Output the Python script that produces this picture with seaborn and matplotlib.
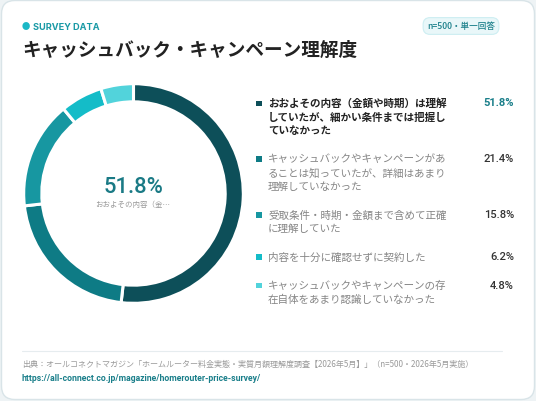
import textwrap
import matplotlib
matplotlib.use("Agg")
import matplotlib.pyplot as plt
from matplotlib.patches import FancyBboxPatch, Rectangle
import seaborn as sns

# -------------------------------
# Data
# -------------------------------
labels = [
    "おおよその内容（金額や時期）は理解していたが、細かい条件までは把握していなかった",
    "キャッシュバックやキャンペーンがあることは知っていたが、詳細はあまり理解していなかった",
    "受取条件・時期・金額まで含めて正確に理解していた",
    "内容を十分に確認せずに契約した",
    "キャッシュバックやキャンペーンの存在自体をあまり認識していなかった",
]
values = [51.8, 21.4, 15.8, 6.2, 4.8]
colors = ["#0d4f59", "#0e7b85", "#1797a1", "#14bcc8", "#52d3db"]

eyebrow = "SURVEY DATA"
title = "キャッシュバック・キャンペーン理解度"
badge = "n=500・単一回答"
center_sub = "おおよその内容（金…"
source = "出典：オールコネクトマガジン「ホームルーター料金実態・実質月額理解度調査【2026年5月】」（n=500・2026年5月実施）"
url = "https://all-connect.co.jp/magazine/homerouter-price-survey/"

W, H = 536, 402
TEAL = "#1a9aa6"
JP = ["Noto Sans CJK JP", "DejaVu Sans"]
LATIN = ["Roboto", "DejaVu Sans"]

sns.set_theme(style="white")
plt.rcParams["font.family"] = JP


def px(x, y):
    """pixel coords (top-left origin) -> figure fraction"""
    return x / W, 1 - y / H


fig = plt.figure(figsize=(W / 100, H / 100), dpi=100)
fig.patch.set_facecolor("#eef3f5")

# card (kept behind the donut axes)
card = FancyBboxPatch((1.5 / W, 1.5 / H), (W - 3) / W, (H - 3) / H,
                      boxstyle="round,pad=0,rounding_size=0.025",
                      transform=fig.transFigure, facecolor="white",
                      edgecolor="#d9e4e8", linewidth=1.0, zorder=-5,
                      mutation_aspect=W / H)
fig.patches.append(card)

# header
fig.text(*px(22, 27), "●", color="#1bb8c6", fontsize=6, va="center", ha="left")
fig.text(*px(33, 27), eyebrow, color=TEAL, fontsize=6.6, fontweight="bold",
         va="center", ha="left", family=["Inter", "DejaVu Sans"])
fig.text(*px(22, 50), title, color="#222222", fontsize=13.4, fontweight="bold",
         va="center", ha="left")
fig.text(*px(461, 27), badge, color="#1a7f8a", fontsize=6.2, fontweight="medium",
         va="center", ha="center",
         bbox=dict(boxstyle="round,pad=0.45,rounding_size=0.8",
                   facecolor="#e9f7f9", edgecolor="#cdeef2", linewidth=0.8))

# donut
cx, cy, r = 133.5, 194.5, 112
ax = fig.add_axes([(cx - r) / W, 1 - (cy + r) / H, 2 * r / W, 2 * r / H])
ax.pie(values, colors=colors, startangle=90, counterclock=False, radius=1,
       wedgeprops=dict(width=0.165, edgecolor="white", linewidth=2.2))
ax.set_xlim(-1.02, 1.02)
ax.set_ylim(-1.02, 1.02)
ax.set_aspect("equal")
ax.axis("off")

fig.text(*px(133, 188), f"{values[0]}%", color="#1a7a85", fontsize=15.8,
         fontweight="medium", va="center", ha="center", family=LATIN)
fig.text(*px(133, 205), center_sub, color="#999999", fontsize=5.4,
         va="center", ha="center")

# legend list
LINE, GAP = 13.8, 14.5
y = 103.5
for i, (lab, val, col) in enumerate(zip(labels, values, colors)):
    lines = textwrap.wrap(lab, 17)
    fig.patches.append(Rectangle(px(256, y + 3.5), 5.5 / W, 5.5 / H,
                                 transform=fig.transFigure, facecolor=col,
                                 edgecolor="none"))
    for j, ln in enumerate(lines):
        fig.text(*px(268, y + j * LINE), ln,
                 color="#222222" if i == 0 else "#858585",
                 fontsize=7.6, fontweight="bold" if i == 0 else "normal",
                 va="center", ha="left")
    fig.text(*px(514, y), f"{val}%",
             color="#1a7f8a" if i == 0 else "#333333",
             fontsize=8, fontweight="bold" if i == 0 else "medium",
             va="center", ha="right", family=LATIN)
    y += len(lines) * LINE + GAP

# footer
fig.add_artist(plt.Line2D([22 / W, 502 / W], [1 - 352 / H] * 2,
                          color="#e6ecef", linewidth=0.8,
                          transform=fig.transFigure))
fig.text(*px(22, 364), source, color="#9a9a9a", fontsize=5.8, va="center",
         ha="left")
fig.text(*px(22, 379), url, color="#1a7f8a", fontsize=6.2, fontweight="bold",
         va="center", ha="left", family=LATIN)

fig.savefig("out.png", dpi=100, facecolor=fig.get_facecolor())
